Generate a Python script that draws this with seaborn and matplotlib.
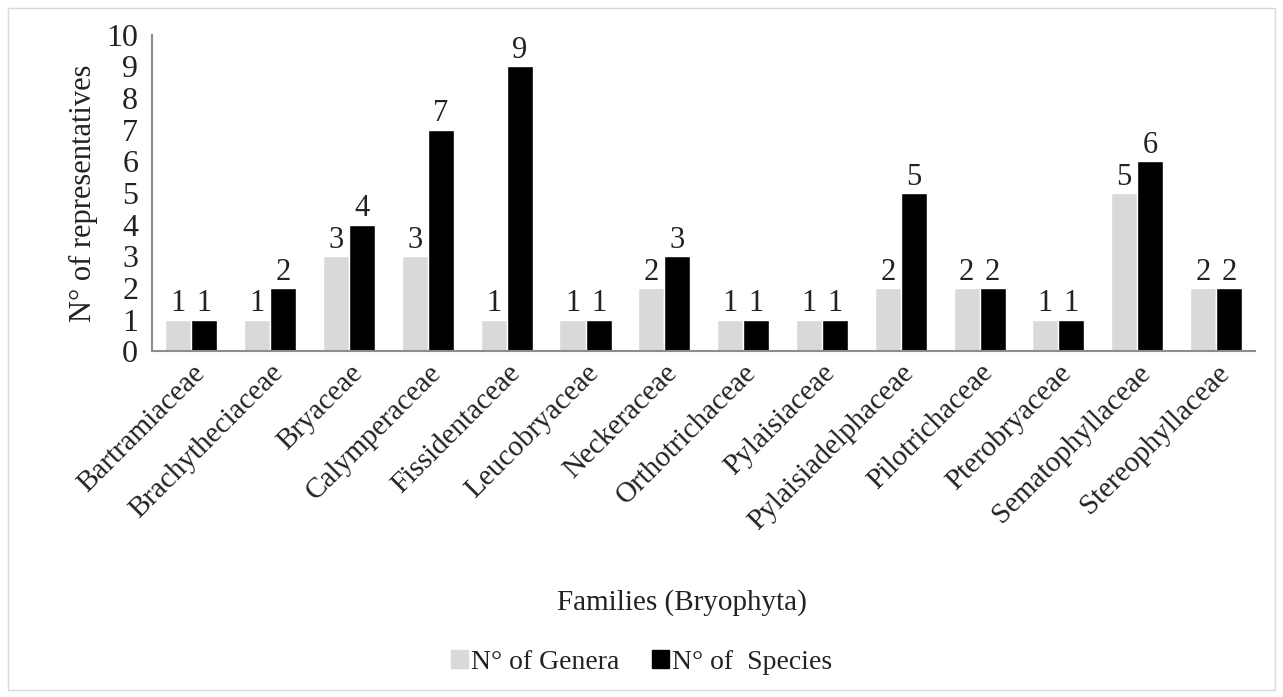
import pandas as pd
import matplotlib.pyplot as plt
import seaborn as sns
from matplotlib.patches import Rectangle

sns.set_theme(style="white")
plt.rcParams['font.family'] = ['Liberation Serif', 'DejaVu Serif']
plt.rcParams['text.color'] = '#222222'
plt.rcParams['axes.labelcolor'] = '#222222'
plt.rcParams['xtick.color'] = '#222222'
plt.rcParams['ytick.color'] = '#222222'

families = ['Bartramiaceae', 'Brachytheciaceae', 'Bryaceae', 'Calymperaceae',
            'Fissidentaceae', 'Leucobryaceae', 'Neckeraceae', 'Orthotrichaceae',
            'Pylaisiaceae', 'Pylaisiadelphaceae', 'Pilotrichaceae', 'Pterobryaceae',
            'Sematophyllaceae', 'Stereophyllaceae']
genera = [1, 1, 3, 3, 1, 1, 2, 1, 1, 2, 2, 1, 5, 2]
species = [1, 2, 4, 7, 9, 1, 3, 1, 1, 5, 2, 1, 6, 2]
series_names = ['N° of Genera', 'N° of  Species']

df = pd.DataFrame({
    'family': families * 2,
    'value': genera + species,
    'series': [series_names[0]] * len(families) + [series_names[1]] * len(families),
})

fig = plt.figure(figsize=(12.83, 6.97), dpi=100)
ax = fig.add_axes([0.1185, 0.496, 0.86, 0.454])

sns.barplot(data=df, x='family', y='value', hue='series', order=families,
            hue_order=series_names, palette=['#d9d9d9', '#000000'],
            width=0.66, gap=0, ax=ax, legend=False)

for cont in ax.containers:
    ax.bar_label(cont, fmt='%d', fontsize=22, padding=1)

ax.set_ylim(0, 10)
ax.set_yticks(range(0, 11))
ax.set_xlim(-0.5, len(families) - 0.5)
ax.tick_params(axis='y', labelsize=23, pad=10, length=0)
ax.tick_params(axis='x', labelsize=21, length=0, pad=6)
plt.setp(ax.get_xticklabels(), rotation=45, ha='right', rotation_mode='anchor')

ax.set_xlabel('Families (Bryophyta)', fontsize=21)
ax.xaxis.set_label_coords(0.48, -0.75)
ax.set_ylabel('N° of representatives', fontsize=22, labelpad=6)

for s in ['top', 'right']:
    ax.spines[s].set_visible(False)
for s in ['left', 'bottom']:
    ax.spines[s].set_color('#8c8c8c')
    ax.spines[s].set_linewidth(1.5)

handles = [Rectangle((0, 0), 1, 1, color='#d9d9d9'), Rectangle((0, 0), 1, 1, color='#000000')]
fig.legend(handles, series_names, loc='center', bbox_to_anchor=(0.5, 0.05), ncol=2,
           frameon=False, fontsize=20, handlelength=0.6, handleheight=0.6,
           handletextpad=0.1, columnspacing=1.2)

fig.patches.append(Rectangle((0.006, 0.01), 0.988, 0.978, transform=fig.transFigure,
                             fill=False, edgecolor='#d9d9d9', linewidth=1))

fig.savefig('out.png', dpi=100)
